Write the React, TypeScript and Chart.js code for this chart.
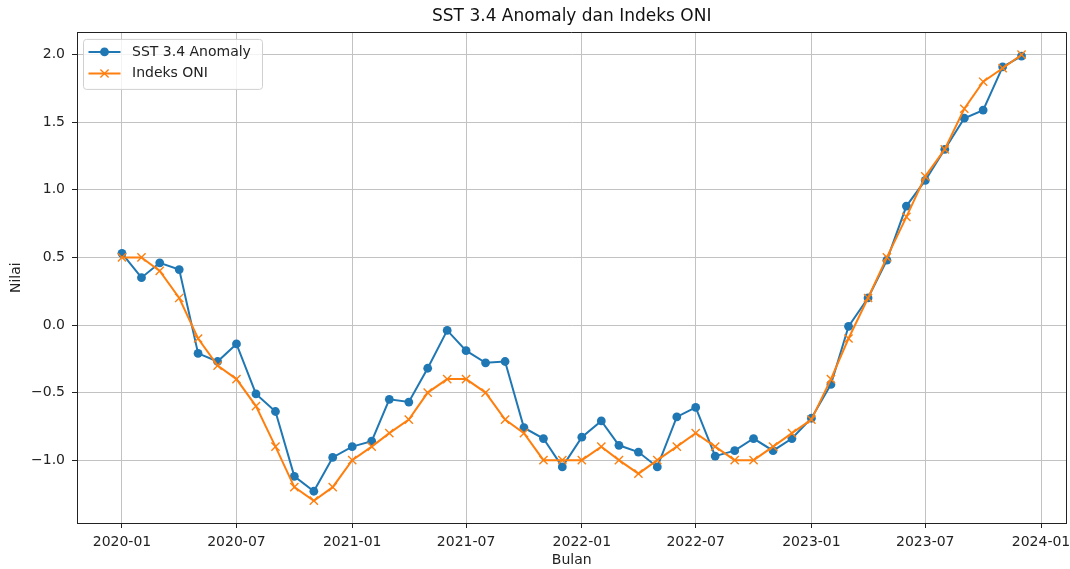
import React, { useEffect, useRef } from 'react';
import { Chart, registerables } from 'chart.js';

Chart.register(...registerables);

const months = [
  '2020-01', '2020-02', '2020-03', '2020-04', '2020-05', '2020-06', '2020-07', '2020-08', '2020-09', '2020-10', '2020-11', '2020-12',
  '2021-01', '2021-02', '2021-03', '2021-04', '2021-05', '2021-06', '2021-07', '2021-08', '2021-09', '2021-10', '2021-11', '2021-12',
  '2022-01', '2022-02', '2022-03', '2022-04', '2022-05', '2022-06', '2022-07', '2022-08', '2022-09', '2022-10', '2022-11', '2022-12',
  '2023-01', '2023-02', '2023-03', '2023-04', '2023-05', '2023-06', '2023-07', '2023-08', '2023-09', '2023-10', '2023-11', '2023-12',
];

const sstAnomaly = [
  0.53, 0.35, 0.46, 0.41, -0.21, -0.27, -0.14, -0.51, -0.64, -1.12, -1.23, -0.98,
  -0.90, -0.86, -0.55, -0.57, -0.32, -0.04, -0.19, -0.28, -0.27, -0.76, -0.84, -1.05,
  -0.83, -0.71, -0.89, -0.94, -1.05, -0.68, -0.61, -0.97, -0.93, -0.84, -0.93, -0.84,
  -0.69, -0.44, -0.01, 0.20, 0.48, 0.88, 1.07, 1.30, 1.53, 1.59, 1.91, 1.99,
];

const oniIndex = [
  0.5, 0.5, 0.4, 0.2, -0.1, -0.3, -0.4, -0.6, -0.9, -1.2, -1.3, -1.2,
  -1.0, -0.9, -0.8, -0.7, -0.5, -0.4, -0.4, -0.5, -0.7, -0.8, -1.0, -1.0,
  -1.0, -0.9, -1.0, -1.1, -1.0, -0.9, -0.8, -0.9, -1.0, -1.0, -0.9, -0.8,
  -0.7, -0.4, -0.1, 0.2, 0.5, 0.8, 1.1, 1.3, 1.6, 1.8, 1.9, 2.0,
];

const xTickLabels = ['2020-01', '2020-07', '2021-01', '2021-07', '2022-01', '2022-07', '2023-01', '2023-07', '2024-01'];
const yTickValues = [-1.0, -0.5, 0.0, 0.5, 1.0, 1.5, 2.0];

const seriesLabels = ['SST 3.4 Anomaly', 'Indeks ONI'];
const seriesColors = ['#1f77b4', '#ff7f0e'];

const FONT = "'DejaVu Sans', sans-serif";

const toTime = (s: string) => {
  const [y, m] = s.split('-').map(Number);
  return Date.UTC(y, m - 1, 1);
};

const noPadding = () => ({ left: 0, top: 0, right: 0, bottom: 0 });

const frameAndLegend = {
  id: 'frameAndLegend',
  afterDatasetsDraw(chart: any) {
    const { ctx, chartArea } = chart;
    ctx.save();
    // top & right spines
    ctx.strokeStyle = '#222';
    ctx.lineWidth = 1;
    ctx.beginPath();
    ctx.moveTo(chartArea.left, Math.round(chartArea.top) + 0.5);
    ctx.lineTo(chartArea.right, Math.round(chartArea.top) + 0.5);
    ctx.moveTo(Math.round(chartArea.right) - 0.5, chartArea.top);
    ctx.lineTo(Math.round(chartArea.right) - 0.5, chartArea.bottom);
    ctx.stroke();

    // legend
    const x0 = chartArea.left + 6.5;
    const y0 = chartArea.top + 7;
    const w = 179;
    const h = 50;
    ctx.beginPath();
    if (ctx.roundRect) ctx.roundRect(x0, y0, w, h, 3);
    else ctx.rect(x0, y0, w, h);
    ctx.fillStyle = 'rgba(255,255,255,0.8)';
    ctx.fill();
    ctx.strokeStyle = '#d0d0d0';
    ctx.lineWidth = 1;
    ctx.stroke();

    chart.data.datasets.forEach((ds: any, i: number) => {
      const cy = y0 + 12.5 + i * 21.6;
      const color = ds.borderColor;
      ctx.strokeStyle = color;
      ctx.lineWidth = 2;
      ctx.beginPath();
      ctx.moveTo(x0 + 5, cy);
      ctx.lineTo(x0 + 37, cy);
      ctx.stroke();
      const mx = x0 + 21;
      if (ds.pointStyle === 'circle') {
        ctx.fillStyle = color;
        ctx.beginPath();
        ctx.arc(mx, cy, ds.pointRadius, 0, Math.PI * 2);
        ctx.fill();
      } else {
        const d = ds.pointRadius * Math.SQRT1_2;
        ctx.lineWidth = ds.pointBorderWidth;
        ctx.beginPath();
        ctx.moveTo(mx - d, cy - d);
        ctx.lineTo(mx + d, cy + d);
        ctx.moveTo(mx - d, cy + d);
        ctx.lineTo(mx + d, cy - d);
        ctx.stroke();
      }
      ctx.fillStyle = '#222';
      ctx.font = `14px ${FONT}`;
      ctx.textAlign = 'left';
      ctx.textBaseline = 'middle';
      ctx.fillText(ds.label, x0 + 48.5, cy);
    });
    ctx.restore();
  },
};

export default function App() {
  const canvasRef = useRef<HTMLCanvasElement | null>(null);

  useEffect(() => {
    const canvas = canvasRef.current;
    if (!canvas) return;

    const xs = months.map(toTime);
    const xFirst = xs[0];
    const xLast = xs[xs.length - 1];
    const xSpan = xLast - xFirst;
    const allVals = [...sstAnomaly, ...oniIndex];
    const yMinData = Math.min(...allVals);
    const yMaxData = Math.max(...allVals);
    const ySpan = yMaxData - yMinData;
    const xTickTimes = xTickLabels.map(toTime);

    const chart = new Chart(canvas, {
      type: 'line',
      data: {
        datasets: [
          {
            label: seriesLabels[0],
            data: months.map((m, i) => ({ x: xs[i], y: sstAnomaly[i] })),
            borderColor: seriesColors[0],
            backgroundColor: seriesColors[0],
            borderWidth: 2,
            pointStyle: 'circle',
            pointRadius: 4.4,
            pointBorderWidth: 0,
            pointBackgroundColor: seriesColors[0],
            pointBorderColor: seriesColors[0],
            tension: 0,
            order: 1,
          },
          {
            label: seriesLabels[1],
            data: months.map((m, i) => ({ x: xs[i], y: oniIndex[i] })),
            borderColor: seriesColors[1],
            backgroundColor: seriesColors[1],
            borderWidth: 2,
            pointStyle: 'crossRot',
            pointRadius: 5.8,
            pointBorderWidth: 1.4,
            pointBackgroundColor: seriesColors[1],
            pointBorderColor: seriesColors[1],
            tension: 0,
            order: 0,
          },
        ] as any,
      },
      options: {
        responsive: false,
        devicePixelRatio: 1,
        animation: false,
        layout: { autoPadding: false, padding: { left: 0, right: 3.5, top: 0, bottom: 0 } },
        plugins: {
          legend: { display: false },
          tooltip: { enabled: false },
          title: {
            display: true,
            text: 'SST 3.4 Anomaly dan Indeks ONI',
            fullSize: false,
            color: '#111',
            font: { family: FONT, size: 17, weight: 'normal' },
            padding: { top: 6, bottom: 6 },
          } as any,
        },
        scales: {
          x: {
            type: 'linear',
            min: xFirst - 0.05 * xSpan,
            max: xLast + 0.05 * xSpan,
            afterBuildTicks: (scale: any) => {
              scale.ticks = xTickTimes.map((v) => ({ value: v }));
            },
            afterFit: (scale: any) => {
              scale.height = 46;
              scale.paddingLeft = 0;
              scale.paddingRight = 0;
              scale.getPadding = noPadding;
            },
            ticks: {
              autoSkip: false,
              maxRotation: 0,
              minRotation: 0,
              padding: 6,
              color: '#222',
              font: { family: FONT, size: 14 },
              callback: (_v: any, i: number) => xTickLabels[i],
            },
            grid: {
              color: '#c2c2c2',
              lineWidth: 1,
              tickColor: '#222',
              tickLength: 5,
              tickWidth: 1,
            },
            border: { display: true, color: '#222', width: 1 },
            title: {
              display: true,
              text: 'Bulan',
              color: '#222',
              font: { family: FONT, size: 14 },
              padding: { top: 0, bottom: 0 },
            },
          },
          y: {
            type: 'linear',
            min: yMinData - 0.05 * ySpan,
            max: yMaxData + 0.05 * ySpan,
            afterBuildTicks: (scale: any) => {
              scale.ticks = yTickValues.map((v) => ({ value: v }));
            },
            afterFit: (scale: any) => {
              scale.width = 77;
              scale.getPadding = noPadding;
            },
            ticks: {
              autoSkip: false,
              padding: 7,
              color: '#222',
              font: { family: FONT, size: 14 },
              callback: (v: any) => {
                const n = Number(v);
                const s = Math.abs(n).toFixed(1);
                return n < 0 ? '\u2212' + s : s;
              },
            },
            grid: {
              color: '#c2c2c2',
              lineWidth: 1,
              tickColor: '#222',
              tickLength: 5,
              tickWidth: 1,
            },
            border: { display: true, color: '#222', width: 1 },
            title: {
              display: true,
              text: 'Nilai',
              color: '#222',
              font: { family: FONT, size: 14 },
              padding: { top: 8, bottom: 8 },
            },
          },
        },
      },
      plugins: [frameAndLegend],
    });

    return () => chart.destroy();
  }, []);

  return (
    <div style={{ position: 'absolute', left: 0, top: 0, width: 1070, height: 569, background: '#fff' }}>
      <canvas ref={canvasRef} width={1070} height={569} style={{ display: 'block' }} />
    </div>
  );
}
